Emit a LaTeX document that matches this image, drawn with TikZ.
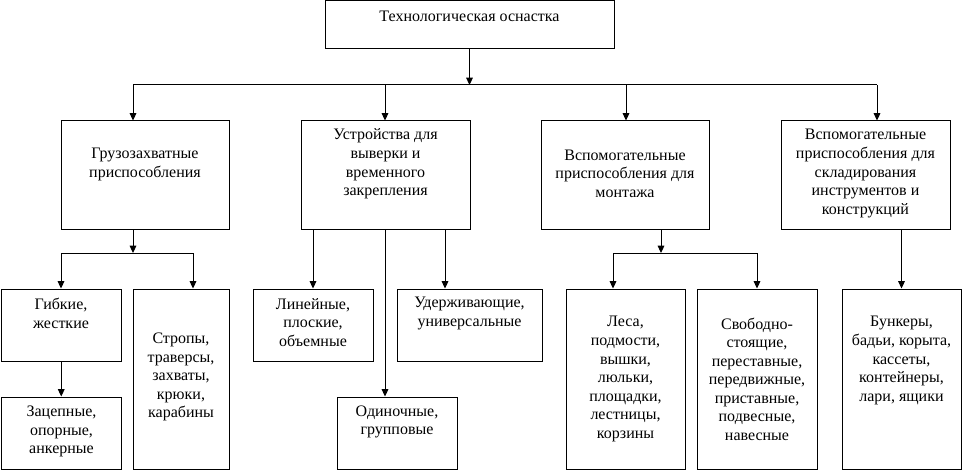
\documentclass[tikz,border=0pt]{standalone}
\usepackage{fontspec}
\setmainfont{Liberation Serif}
\usetikzlibrary{arrows.meta,fit}
\begin{document}
\begin{tikzpicture}[x=0.75pt,y=-0.75pt,
  box/.style={draw,line width=0.75pt,inner sep=0pt},
  txt/.style={align=center,inner sep=0pt,font=\fontsize{12pt}{13.9pt}\selectfont},
  ln/.style={line width=0.75pt},
  arr/.style={line width=0.75pt,-{Triangle[width=5pt,length=5.5pt]}}]
\useasboundingbox (0,0) rectangle (962,470);
% boxes
\node[box,fit={(325,1) (614,49)}] (top) {};
\node[box,fit={(61,121) (229,229)}] (b1) {};
\node[box,fit={(301,121) (470,229)}] (b2) {};
\node[box,fit={(541,121) (709,229)}] (b3) {};
\node[box,fit={(781,121) (950,229)}] (b4) {};
\node[box,fit={(1.5,289) (121,361)}] (c1) {};
\node[box,fit={(1.5,397) (121,469)}] (c2) {};
\node[box,fit={(133,289) (229,469)}] (c3) {};
\node[box,fit={(253,289) (373,361)}] (c4) {};
\node[box,fit={(397,289) (542,361)}] (c5) {};
\node[box,fit={(337,397) (457,469)}] (c6) {};
\node[box,fit={(566,289) (685,469)}] (c7) {};
\node[box,fit={(697,289) (817,469)}] (c8) {};
\node[box,fit={(842,289) (961,469)}] (c9) {};
% texts
\node[txt] (ttop) at (469.5,16) {Технологическая оснастка};
\node[txt] (tb1) at (145,164.5) {Грузозахватные\\приспособления};
\node[txt] (tb2) at (385.5,164) {Устройства для\\выверки и\\временного\\закрепления};
\node[txt] (tb3) at (625,173.5) {Вспомогательные\\приспособления для\\монтажа};
\node[txt] (tb4) at (865.5,173.5) {Вспомогательные\\приспособления для\\складирования\\инструментов и\\конструкций};
\node[txt] (tc1) at (61,313.5) {Гибкие,\\жесткие};
\node[txt] (tc2) at (61.5,431.5) {Зацепные,\\опорные,\\анкерные};
\node[txt] (tc3) at (181,377) {Стропы,\\траверсы,\\захваты,\\крюки,\\карабины};
\node[txt] (tc4) at (313,322.5) {Линейные,\\плоские,\\объемные};
\node[txt] (tc5) at (469.5,313.5) {Удерживающие,\\универсальные};
\node[txt] (tc6) at (397,422) {Одиночные,\\групповые};
\node[txt] (tc7) at (625.5,379) {Леса,\\подмости,\\вышки,\\люльки,\\площадки,\\лестницы,\\корзины};
\node[txt] (tc8) at (757,379) {Свободно-\\стоящие,\\переставные,\\передвижные,\\приставные,\\подвесные,\\навесные};
\node[txt] (tc9) at (901.5,360.5) {Бункеры,\\бадьи, корыта,\\кассеты,\\контейнеры,\\лари, ящики};
% level 1 connectors
\coordinate (j0) at (469.5,85);
\coordinate (j1) at (133,85);
\coordinate (j2) at (385,85);
\coordinate (j3) at (626,85);
\coordinate (j4) at (877,85);
\draw[arr] (top.south) -- (j0);
\draw[ln] (j1) -- (j4);
\draw[arr] (j1) -- (j1 |- b1.north);
\draw[arr] (j2) -- (j2 |- b2.north);
\draw[arr] (j3) -- (j3 |- b3.north);
\draw[arr] (j4) -- (j4 |- b4.north);
% b1 children
\coordinate (k1) at (133,253);
\coordinate (k1a) at (61,253);
\coordinate (k1b) at (193,253);
\draw[arr] (k1 |- b1.south) -- (k1);
\draw[ln] (k1a) -- (k1b);
\draw[arr] (k1a) -- (k1a |- c1.north);
\draw[arr] (k1b) -- (k1b |- c3.north);
\draw[arr] (c1.south) -- (c1.south |- c2.north);
% b2 children
\coordinate (m1) at (313,229);
\coordinate (m2) at (385,229);
\coordinate (m3) at (445,229);
\draw[arr] (m1) -- (m1 |- c4.north);
\draw[arr] (m2) -- (m2 |- c6.north);
\draw[arr] (m3) -- (m3 |- c5.north);
% b3 children
\coordinate (n1) at (661,253);
\coordinate (n1a) at (613,253);
\coordinate (n1b) at (757,253);
\draw[arr] (n1 |- b3.south) -- (n1);
\draw[ln] (n1a) -- (n1b);
\draw[arr] (n1a) -- (n1a |- c7.north);
\draw[arr] (n1b) -- (n1b |- c8.north);
% b4 child
\draw[arr] (c9.north |- b4.south) -- (c9.north);
\end{tikzpicture}
\end{document}
